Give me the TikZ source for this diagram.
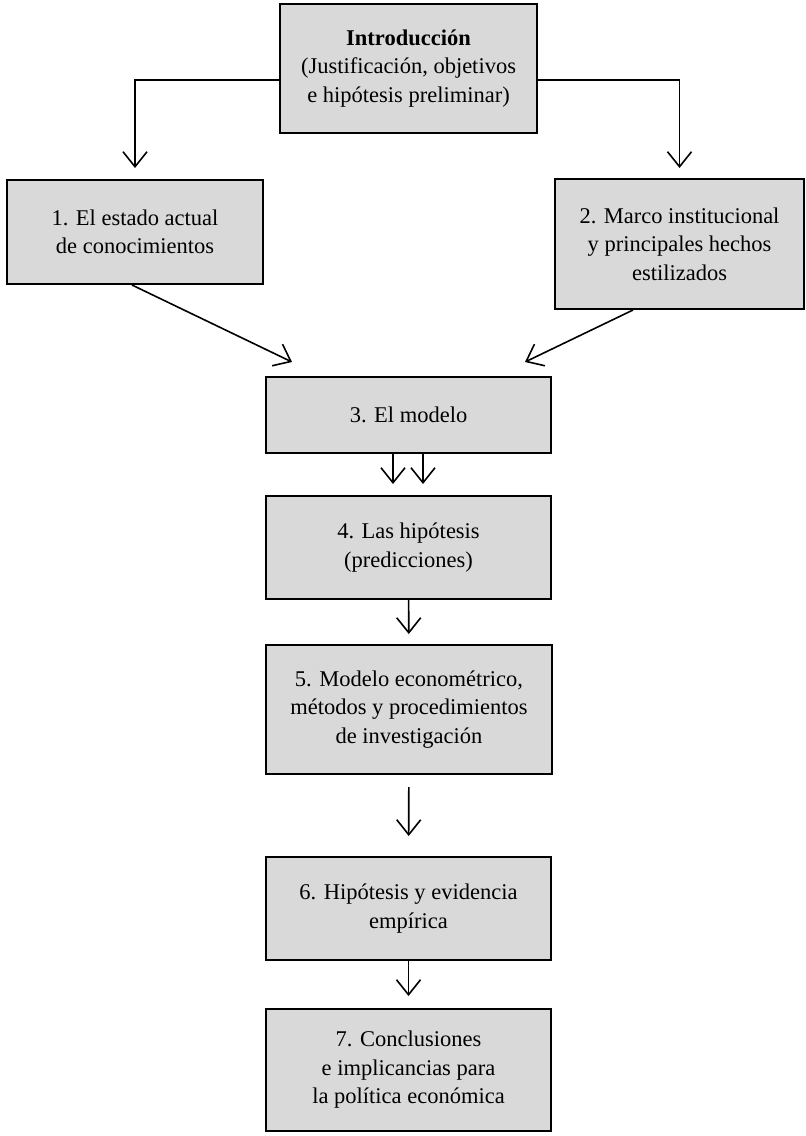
\documentclass[tikz,border=0pt]{standalone}
\usepackage{fontspec}
\setmainfont{Liberation Serif}
\usetikzlibrary{arrows.meta}
\definecolor{boxgray}{HTML}{D9D9D9}
\begin{document}
\begin{tikzpicture}[x=1pt, y=-1pt, line width=1.6pt,
  main/.style = {draw, line width=2pt, fill=boxgray, align=center, inner sep=0pt, font=\fontsize{22.5}{28.5}\selectfont},
  arr/.style = {-{Straight Barb[length=15pt,width=24pt]}}]
  \useasboundingbox (0,0) rectangle (806,1136);
  \node[main, minimum width=257pt, minimum height=129pt] (intro) at (408.5,68.5) {\textbf{Introducción}\\(Justificación, objetivos\\e hipótesis preliminar)};
  \node[main, minimum width=256pt, minimum height=104pt] (b1) at (135,232) {1. El estado actual\\de conocimientos};
  \node[main, minimum width=249pt, minimum height=130pt] (b2) at (679.5,244) {2. Marco institucional\\y principales hechos\\estilizados};
  \node[main, minimum width=285pt, minimum height=76pt] (b3) at (408.5,415) {3. El modelo};
  \node[main, minimum width=285pt, minimum height=103pt] (b4) at (408.5,547.5) {4. Las hipótesis\\(predicciones)};
  \node[main, minimum width=286pt, minimum height=129pt] (b5) at (409,709.5) {5. Modelo econométrico,\\métodos y procedimientos\\de investigación};
  \node[main, minimum width=285pt, minimum height=103pt] (b6) at (408.5,908.5) {6. Hipótesis y evidencia\\empírica};
  \node[main, minimum width=285pt, minimum height=122pt] (b7) at (408.5,1070) {7. Conclusiones\\e implicancias para\\la política económica};
  \coordinate (in3l) at (292,362);
  \coordinate (in3r) at (525,362);
  \draw[arr, shorten >=11pt] ([yshift=-11.5pt]intro.west) -| (b1);
  \draw[arr, shorten >=10pt] ([yshift=-11.5pt]intro.east) -| (b2);
  \draw[arr] ([xshift=-3pt]b1.south) -- (in3l);
  \draw[arr] ([xshift=-46.5pt]b2.south) -- (in3r);
  \draw[arr, shorten >=11pt] ([xshift=-15.5pt]b3.south) -- ([xshift=-15.5pt]b4.north);
  \draw[arr, shorten >=11pt] ([xshift=14.5pt]b3.south) -- ([xshift=14.5pt]b4.north);
  \draw[arr, shorten >=10pt] (b4) -- (b5);
  \draw[arr, shorten <=12pt, shorten >=20pt] (b5) -- (b6);
  \draw[arr, shorten >=12pt] (b6) -- (b7);
\end{tikzpicture}
\end{document}
